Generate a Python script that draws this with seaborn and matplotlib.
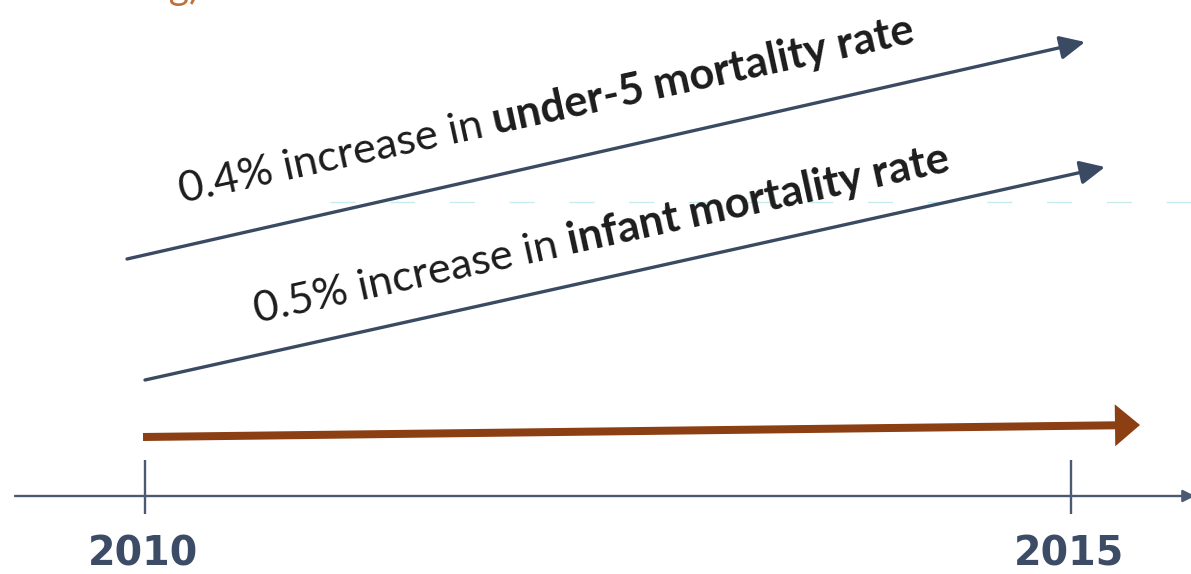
import numpy as np
import seaborn as sns
import matplotlib.pyplot as plt

# data
years = [2010, 2015]
rates = [0.4, 0.5]
indicators = ["under-5 mortality rate", "infant mortality rate"]

sns.set_theme(style="white")
plt.rcParams['font.family'] = ['Lato', 'DejaVu Sans']

W, H = 1191, 574
fig = plt.figure(figsize=(W / 100, H / 100), dpi=100)
ax = fig.add_axes([0, 0, 1, 1])

# horizontal scale: 2010 at px 145, 2015 at px 1071
px_per_year = (1071 - 145) / (years[1] - years[0])


def yr(px):
    return years[0] + (px - 145) / px_per_year


ax.set_xlim(yr(0), yr(W))
ax.set_ylim(H, 0)
ax.axis('off')

slate = '#3b4a63'
brown = '#8c3f12'

# faint dashed guide line
ax.plot([yr(330), yr(W)], [202, 202], color='#c6ecee', lw=1, ls=(0, (18, 25)))

# slanted indicator arrows
arrows = [((127, 259), (1085, 42)), ((145, 380), (1105, 167))]
for (x0, y0), (x1, y1) in arrows:
    ax.annotate('', xy=(yr(x1), y1), xytext=(yr(x0), y0),
                arrowprops=dict(arrowstyle='-|>,head_length=0.95,head_width=0.45',
                                mutation_scale=16, color=slate, lw=2.4,
                                shrinkA=0, shrinkB=0))

# brown baseline arrow
ax.annotate('', xy=(yr(1140), 425), xytext=(yr(143), 437),
            arrowprops=dict(arrowstyle='simple,head_length=1.25,head_width=2.1,tail_width=0.4',
                            mutation_scale=14.4, color=brown, lw=0,
                            shrinkA=0, shrinkB=0))

# time axis
ax.annotate('', xy=(yr(1195), 496), xytext=(yr(15), 496),
            arrowprops=dict(arrowstyle='-|>,head_length=0.6,head_width=0.3',
                            mutation_scale=12, color='#4b5a72', lw=1.7,
                            shrinkA=0, shrinkB=0),
            annotation_clip=False)
ax.vlines(years, 460, 514, color='#4b5a72', lw=1.7)
for y in years:
    ax.text(y - 0.01, 566, str(y), ha='center', va='baseline', fontsize=28.5,
            fontweight='bold', color='#3d4c66', family='DejaVu Sans')

# cut-off title fragment at top
fig.text(147 / W, 1 + 1 / H, 'ng)', ha='left', va='baseline', fontsize=28,
         color='#c07039')

# rotated mixed-weight labels
renderer = fig.canvas.get_renderer()


def rotated_label(x_px, y_px, parts, angle, size):
    c, s = np.cos(np.radians(angle)), np.sin(np.radians(angle))
    for txt, weight in parts:
        fig.text(x_px / W, 1 - y_px / H, txt, rotation=angle,
                 rotation_mode='anchor', ha='left', va='baseline',
                 fontsize=size, fontweight=weight, color='#1c1c1c')
        tmp = fig.text(0, 0, txt, fontsize=size, fontweight=weight)
        w = tmp.get_window_extent(renderer).width + size * 0.25 * 100 / 72
        tmp.remove()
        x_px += w * c
        y_px -= w * s


starts = [(182, 203), (257, 323)]
for (sx, sy), r, ind in zip(starts, rates, indicators):
    rotated_label(sx, sy, [(f'{r}% increase in', 'normal'), (ind, 'bold')],
                  12.3, 31.3)

fig.savefig('out.png', dpi=100)
